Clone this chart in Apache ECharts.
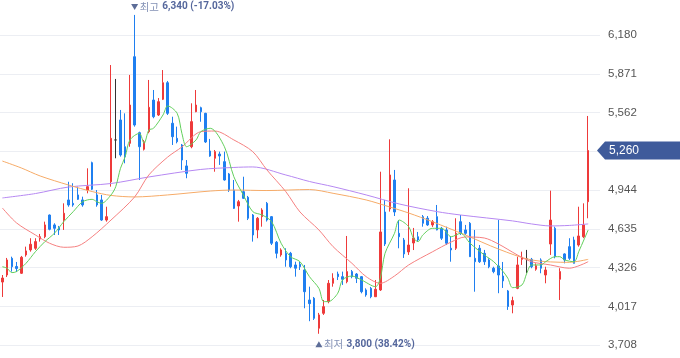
<!DOCTYPE html>
<html><head><meta charset="utf-8">
<script src="https://cdn.jsdelivr.net/npm/echarts@6/dist/echarts.min.js"></script>
<style>html,body{margin:0;padding:0;background:#fff;}#c{width:680px;height:358px;}</style>
</head><body><div id="c"></div>
<script>
// OHLC values (125 sessions)
const opens = [4212,4268,4401,4336,4282,4428,4468,4481,4555,4573,4746,4667,4648,4706,4866,4839,4906,4866,4945,5163,4906,4866,4706,5011,5344,5503,5290,5317,6007,5402,5270,5410,5662,5543,5668,5800,5477,5357,5304,5137,5290,5569,5601,5556,5256,5198,5232,5171,5073,4945,4818,4932,4887,4746,4627,4733,4839,4733,4529,4428,4441,4441,4348,4354,4308,4069,4083,3844,3963,4056,4202,4276,4255,4215,4295,4276,4255,4149,4162,4095,4149,4770,4794,5025,4600,4547,4452,4523,4573,4733,4720,4667,4733,4640,4627,4481,4481,4693,4627,4680,4401,4481,4441,4388,4322,4340,4260,4141,4029,4162,4393,4396,4393,4314,4388,4268,4515,4640,4234,4436,4494,4547,4507,4573,4852];
const closes = [4244,4388,4334,4320,4409,4460,4513,4534,4573,4667,4632,4640,4627,4760,4826,4826,4871,4826,4972,4951,4826,4706,4733,5357,5344,5224,5211,5622,5463,5290,5330,5604,5529,5649,5800,5556,5370,5330,5184,5078,5490,5622,5569,5328,5216,5251,5216,5025,4945,4799,4852,4879,4720,4587,4720,4786,4706,4521,4441,4468,4388,4334,4322,4334,4135,4040,3923,3950,4016,4202,4242,4255,4234,4295,4255,4242,4135,4109,4095,4154,4611,4515,5065,4770,4573,4436,4507,4563,4547,4680,4667,4693,4627,4561,4521,4468,4600,4600,4600,4414,4374,4374,4374,4334,4295,4268,4221,4017,4064,4348,4409,4396,4334,4342,4322,4308,4706,4414,4295,4388,4401,4361,4579,4667,5260];
const lows = [4093,4252,4295,4292,4276,4414,4454,4468,4534,4561,4624,4587,4587,4627,4812,4812,4866,4812,4919,4945,4812,4699,4693,4972,5198,5211,5158,5290,5450,5025,5260,5397,5517,5535,5662,5543,5304,5317,5105,5039,5278,5565,5489,5320,5210,5091,5145,5020,4930,4794,4693,4875,4706,4534,4561,4653,4694,4507,4401,4414,4334,4322,4255,4308,4003,3900,3910,3800,3950,4043,4175,4228,4189,4202,4242,4204,4122,4095,4083,4093,4141,4499,4773,4738,4481,4404,4428,4467,4531,4653,4659,4651,4624,4547,4507,4374,4468,4587,4587,4412,4135,4364,4348,4322,4282,4123,4165,3990,3963,4155,4348,4282,4322,4302,4282,4202,4428,4401,4069,4361,4388,4361,4494,4561,4720];
const highs = [4268,4404,4414,4372,4420,4494,4561,4561,4595,4693,4750,4680,4659,4839,5011,4999,4972,4892,5118,5171,4945,4906,4812,5941,5830,5583,5556,5862,6340,5410,5344,5822,5742,5678,5901,5814,5529,5450,5312,5184,5636,5742,5609,5560,5352,5264,5251,5251,5081,5025,4866,5051,4898,4754,4730,4800,4850,4738,4539,4481,4481,4452,4374,4372,4348,4175,4093,3966,4069,4228,4282,4295,4295,4579,4308,4284,4260,4162,4173,4228,5091,4866,5349,5105,4706,4563,4959,4643,4611,4746,4738,4706,4826,4651,4653,4573,4720,4746,4667,4690,4627,4507,4468,4401,4334,4706,4372,4149,4095,4414,4454,4468,4404,4361,4401,4334,4940,4653,4322,4441,4561,4573,4812,4839,5535];

// moving-average lines: [session index, value]
const ma5 = [[0,4334],[1,4322],[2,4287],[3,4295],[5,4361],[7,4454],[9,4534],[11,4600],[13,4693],[15,4773],[17,4852],[19,4871],[20,4852],[21,4839],[23,4906],[24,4972],[25,5118],[26,5211],[27,5344],[29,5397],[30,5317],[31,5423],[32,5437],[34,5543],[35,5615],[37,5556],[38,5397],[39,5290],[41,5344],[42,5410],[44,5437],[47,5290],[49,5051],[51,4906],[53,4773],[55,4746],[57,4693],[59,4521],[61,4414],[63,4374],[65,4255],[67,4162],[68,4056],[69,4056],[71,4123],[72,4229],[74,4260],[76,4229],[79,4175],[80,4242],[81,4441],[83,4600],[84,4706],[86,4653],[87,4563],[88,4534],[89,4587],[91,4640],[93,4640],[95,4573],[97,4600],[99,4521],[102,4428],[104,4374],[106,4295],[107,4242],[108,4167],[110,4189],[111,4282],[112,4348],[114,4348],[115,4374],[117,4414],[118,4414],[119,4388],[121,4374],[122,4454],[124,4627]];
const ma20 = [[0,4802],[3,4683],[7,4587],[10,4521],[13,4489],[16,4499],[19,4573],[23,4706],[28,4890],[31,5065],[35,5208],[38,5288],[42,5410],[45,5415],[49,5344],[53,5251],[56,5105],[60,4932],[63,4770],[67,4627],[70,4494],[74,4361],[77,4255],[80,4202],[83,4260],[86,4348],[91,4452],[95,4531],[98,4571],[102,4563],[105,4515],[109,4428],[112,4374],[116,4348],[120,4322],[124,4374]];
const ma60 = [[0,5176],[4,5121],[8,5057],[14,4985],[19,4933],[23,4902],[28,4890],[35,4906],[44,4937],[49,4945],[56,4941],[65,4949],[70,4919],[77,4866],[82,4810],[86,4762],[91,4693],[98,4587],[105,4475],[112,4388],[120,4369],[124,4393]];
const ma120 = [[0,4882],[7,4917],[14,4969],[23,4997],[31,5049],[42,5109],[49,5125],[53,5129],[60,5065],[65,5013],[70,4972],[77,4906],[84,4834],[92,4773],[97,4746],[108,4699],[112,4675],[116,4659],[120,4663],[124,4675]];

const highPoint = {index: 28, value: 6340, name: '최고', text: '6,340 (-17.03%)'};
const lowPoint = {index: 67, value: 3800, name: '최저', text: '3,800 (38.42%)'};
const lastPriceText = '5,260';
const yTicks = {min: 3708, max: 6459, step: 309};

const totalSlots = 127;
const categories = Array.from({length: totalSlots}, (_, i) => 'D' + (i + 1));
const candleData = opens.map((o, i) => [o, closes[i], lows[i], highs[i]]);

const UP = '#ee3a3a', DOWN = '#1f7ff0';
const richStyle = {
  a: {color: '#8492b6', fontSize: 10.5, fontFamily: 'Noto Sans CJK KR'},
  b: {color: '#55679c', fontSize: 10, fontWeight: 'bold', fontFamily: 'Roboto'}
};

const chart = echarts.init(document.getElementById('c'), null, {renderer: 'canvas'});
const lineS = (data, color) => ({type: 'line', data, symbol: 'none', smooth: 0.3, silent: true,
  lineStyle: {color, width: 1}, z: 3});

chart.setOption({
  animation: false,
  grid: {left: -0.7, right: 80, top: 0, bottom: 12.7},
  xAxis: {type: 'category', data: categories, boundaryGap: true, show: false},
  yAxis: {type: 'value', position: 'right', min: yTicks.min, max: yTicks.max, interval: yTicks.step,
    axisLine: {show: false}, axisTick: {show: false},
    splitLine: {showMaxLine: false, lineStyle: {color: '#eceef3', width: 1}},
    axisLabel: {margin: 8, color: '#555', fontSize: 11.5, fontFamily: 'Liberation Sans', showMaxLabel: false,
      formatter: v => (v - yTicks.min) % yTicks.step === 0 ? v.toLocaleString('en-US') : ''}},
  series: [
    {type: 'candlestick', data: candleData, barWidth: 2, z: 2,
      itemStyle: {color: UP, color0: DOWN, borderColor: UP, borderColor0: DOWN, borderColorDoji: '#333', borderWidth: 1},
      markPoint: {silent: true, animation: false, data: [
        {coord: [highPoint.index, highPoint.value], symbol: 'triangle', symbolSize: [7, 6], symbolRotate: 180,
          symbolOffset: [0, -8], itemStyle: {color: '#5d6d98'},
          label: {show: true, position: 'right', distance: 1.5,
            formatter: '{a|' + highPoint.name + '} {b|' + highPoint.text + '}', rich: richStyle}},
        {coord: [lowPoint.index, lowPoint.value], symbol: 'triangle', symbolSize: [7, 6],
          symbolOffset: [0, 10.5], itemStyle: {color: '#5d6d98'},
          label: {show: true, position: 'right', distance: 1.5,
            formatter: '{a|' + lowPoint.name + '} {b|' + lowPoint.text + '}', rich: richStyle}}
      ]}},
    lineS(ma120, '#b688f2'),
    lineS(ma60, '#f6ab68'),
    lineS(ma20, '#f58080'),
    lineS(ma5, '#62cf5c')
  ]
});

// current price tag at the right axis
const lastClose = closes[closes.length - 1];
const py = chart.convertToPixel({yAxisIndex: 0}, lastClose);
const gx = 680 - 80;
chart.setOption({graphic: [
  {type: 'polygon', z: 100, silent: true,
    shape: {points: [[gx - 3, py], [gx + 5, py - 9], [680, py - 9], [680, py + 9], [gx + 5, py + 9]]},
    style: {fill: '#3f5b9b'}},
  {type: 'text', z: 101, silent: true, x: gx + 9, y: py,
    style: {text: lastPriceText, fill: '#fff', font: '12px "Liberation Sans"', verticalAlign: 'middle'}}
]});
</script></body></html>
